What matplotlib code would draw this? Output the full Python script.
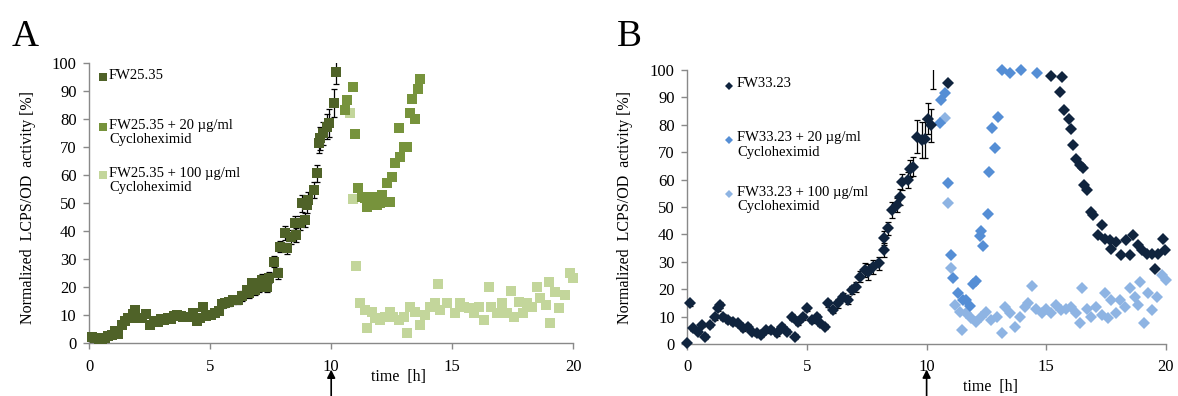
import matplotlib
matplotlib.use("Agg")
import matplotlib.pyplot as plt
import numpy as np

plt.rcParams['font.family'] = ['Liberation Serif', 'DejaVu Serif']

# ---------------- Panel A data ----------------
A_ctrl_x = [0.11, 0.25, 0.39, 0.52, 0.66, 0.8, 0.94, 1.08, 1.2, 1.35, 1.5, 1.6, 1.83, 1.9, 2.0,
            2.2, 2.35, 2.5, 2.7, 2.85, 2.98, 3.1, 3.25, 3.4, 3.5, 3.65, 3.78, 3.9, 4.04, 4.3,
            4.45, 4.59, 4.72, 4.85, 5.05, 5.2, 5.35, 5.5, 5.62, 5.8, 5.95, 6.17, 6.3, 6.52, 6.6,
            6.75, 6.86, 7.0, 7.13, 7.34, 7.45, 7.62, 7.82, 7.89, 8.1, 8.17, 8.35, 8.51, 8.55,
            8.72, 8.78, 8.9, 8.99, 9.06, 9.3, 9.41, 9.48, 9.55, 9.68, 9.82, 9.93, 10.1, 10.2]
A_ctrl_y = [2.1, 2.0, 1.4, 1.6, 1.8, 2.5, 3.0, 4.5, 3.5, 6.5, 8.0, 8.9, 10.6, 11.9, 9.0,
            9.1, 10.5, 6.5, 8.0, 7.5, 8.6, 8.2, 9.0, 8.8, 9.6, 10.0, 9.6, 9.3, 9.5, 10.7,
            8.0, 8.9, 13.1, 9.7, 10.2, 10.7, 11.5, 14.0, 14.3, 14.8, 15.5, 15.5, 17.0, 19.0, 18.0,
            21.5, 19.0, 20.0, 22.6, 20.2, 23.5, 29.1, 25.0, 34.5, 39.3, 33.9, 38.0, 42.9, 38.7,
            42.9, 50.0, 44.0, 49.4, 51.2, 54.8, 60.7, 71.4, 73.2, 75.0, 77.4, 78.6, 85.7, 96.8]
A_ctrl_err = [0.5, 0.5, 0.5, 0.5, 0.5, 0.5, 0.6, 0.6, 0.6, 0.8, 0.8, 1.0, 1.2, 1.0, 0.8,
              0.8, 0.8, 0.8, 0.8, 0.8, 0.8, 0.8, 0.8, 0.8, 0.8, 0.8, 0.8, 0.8, 0.8, 1.0,
              0.8, 1.0, 1.0, 1.0, 1.0, 1.0, 1.2, 1.5, 1.2, 1.5, 1.5, 1.5, 1.8, 1.5, 1.8,
              1.5, 1.8, 1.8, 2.0, 2.0, 1.8, 2.0, 2.0, 2.0, 2.5, 2.0, 2.5, 2.5, 2.5,
              2.5, 3.0, 2.5, 3.0, 3.0, 3.0, 3.0, 3.5, 4.0, 4.0, 4.5, 5.0, 5.0, 4.0]

A_20_x = [10.57, 10.64, 10.91, 10.98, 11.12, 11.26, 11.4, 11.46, 11.67, 11.88, 12.02, 12.09,
          12.29, 12.43, 12.5, 12.64, 12.78, 12.85, 12.99, 13.13, 13.26, 13.33, 13.47, 13.57, 13.68]
A_20_y = [83.3, 86.9, 91.4, 74.8, 55.4, 52.4, 51.8, 48.8, 52.4, 49.4, 50.0, 53.0,
          57.1, 50.6, 59.5, 64.3, 76.8, 66.7, 70.2, 70.2, 82.1, 87.1, 80.0, 90.7, 94.3]

A_100_x = [10.78, 10.92, 11.03, 11.2, 11.4, 11.47, 11.67, 11.82, 12.02, 12.23, 12.43, 12.57,
           12.78, 12.99, 13.13, 13.26, 13.47, 13.68, 13.88, 14.1, 14.3, 14.4, 14.5, 14.8, 15.1,
           15.3, 15.5, 15.7, 15.9, 16.1, 16.3, 16.5, 16.6, 16.85, 17.05, 17.26, 17.43, 17.54,
           17.74, 17.92, 18.1, 18.3, 18.5, 18.64, 18.87, 18.98, 19.05, 19.26, 19.4, 19.67,
           19.85, 20.0]
A_100_y = [82.1, 51.4, 27.6, 14.3, 11.9, 5.4, 11.3, 8.9, 8.3, 9.5, 11.3, 9.5,
           8.3, 9.5, 3.6, 13.1, 11.3, 6.5, 10.1, 13.1, 14.3, 21.1, 11.9, 14.3, 10.7,
           14.3, 13.1, 12.5, 10.7, 13.1, 8.3, 20.0, 13.1, 10.7, 14.3, 10.7, 18.7, 9.5,
           14.9, 10.7, 14.3, 13.1, 20.0, 16.1, 13.7, 21.9, 7.1, 18.3, 12.5, 17.3,
           25.0, 23.2]

# ---------------- Panel B data ----------------
B_ctrl_x = [0.0, 0.11, 0.25, 0.46, 0.6, 0.74, 0.95, 1.16, 1.3, 1.37, 1.5, 1.71, 1.92, 2.13, 2.34,
            2.55, 2.7, 2.9, 3.1, 3.3, 3.5, 3.73, 3.94, 4.15, 4.36, 4.5, 4.64, 4.85, 4.99, 5.2,
            5.4, 5.54, 5.75, 5.89, 6.1, 6.3, 6.52, 6.73, 6.87, 7.07, 7.22, 7.43, 7.57, 7.78,
            7.99, 8.2, 8.22, 8.4, 8.54, 8.75, 8.89, 8.96, 9.24, 9.3, 9.45, 9.6, 9.8, 9.93,
            10.06, 10.2, 10.9,
            15.21, 15.56, 15.67, 15.73, 15.94, 16.02, 16.12, 16.22, 16.4, 16.54, 16.58, 16.68,
            16.86, 16.96, 17.17, 17.31, 17.45, 17.65, 17.72, 17.93, 18.14, 18.35, 18.49, 18.63,
            18.84, 18.98, 19.19, 19.4, 19.54, 19.68, 19.89, 19.97]
B_ctrl_y = [0.2, 14.8, 5.7, 4.5, 6.9, 2.7, 6.9, 9.9, 13.0, 14.2, 9.9, 8.7, 8.1, 7.5, 5.7,
            6.3, 4.5, 3.9, 3.3, 5.1, 5.1, 3.9, 6.3, 4.5, 9.9, 2.7, 8.1, 9.9, 13.0, 8.7,
            9.9, 7.5, 6.3, 14.8, 12.4, 14.8, 17.2, 16.0, 19.6, 20.9, 24.5, 26.9, 26.3, 28.2,
            29.4, 34.3, 38.6, 42.2, 48.9, 50.7, 53.7, 59.2, 59.8, 64.0, 64.7, 75.6, 74.4, 75.0,
            82.3, 79.8, 95.4,
            97.8, 92.1, 97.3, 85.4, 82.0, 78.3, 72.8, 67.7, 65.3, 64.1, 58.0, 56.2,
            48.3, 47.0, 39.7, 43.4, 38.2, 37.9, 34.8, 37.3, 32.4, 37.9, 32.4, 39.7,
            36.1, 34.2, 33.0, 33.0, 27.5, 33.0, 38.5, 34.2]
# error bars exist for the first part of the time course only
B_ctrl_err = [0.5, 0.8, 0.8, 0.8, 0.8, 0.8, 0.8, 1.0, 1.0, 1.0, 1.2, 1.0, 1.0, 1.0, 1.0,
              1.0, 0.8, 0.8, 0.8, 1.0, 1.0, 1.0, 1.0, 1.0, 1.0, 0.8, 1.0, 1.0, 1.0, 1.0,
              1.0, 1.0, 1.0, 1.2, 1.2, 1.5, 1.5, 1.5, 1.5, 1.8, 2.0, 2.5, 3.0, 2.5,
              2.5, 2.5, 2.5, 2.5, 3.0, 2.5, 3.0, 3.0, 3.0, 3.0, 3.5, 6.0, 6.5, 7.0,
              5.5, 6.0]
B_off_x = [10.26]
B_off_y = [106.0]
B_off_err = [13.0]

B_20_x = [10.55, 10.62, 10.76, 10.9, 11.0, 11.1, 11.31, 11.5, 11.66, 11.8, 11.94, 12.05, 12.21,
          12.29, 12.35, 12.57, 12.61, 12.75, 12.85, 12.99, 13.13, 13.48, 13.95, 14.62]
B_20_y = [80.6, 89.1, 91.5, 58.6, 32.5, 24.0, 18.7, 16.0, 16.0, 14.0, 21.9, 23.1, 39.5,
          41.3, 35.8, 47.3, 62.9, 78.7, 71.5, 83.0, 100.0, 98.8, 100.0, 98.8]

B_100_x = [10.76, 10.9, 11.0, 11.17, 11.38, 11.46, 11.66, 11.87, 12.08, 12.29, 12.5, 12.71,
           12.92, 13.13, 13.27, 13.48, 13.69, 13.89, 14.1, 14.24, 14.42, 14.59, 14.8, 15.0,
           15.21, 15.42, 15.63, 15.84, 16.05, 16.26, 16.4, 16.51, 16.68, 16.88, 17.09, 17.31,
           17.45, 17.59, 17.72, 17.93, 18.07, 18.28, 18.49, 18.7, 18.84, 18.91, 19.07, 19.26,
           19.42, 19.61, 19.82, 19.99]
B_100_y = [82.4, 51.6, 27.6, 14.2, 11.8, 5.1, 11.2, 9.4, 8.1, 9.9, 11.8, 8.8,
           9.9, 3.9, 13.6, 11.2, 6.3, 9.9, 13.6, 14.8, 21.3, 12.9, 11.2, 12.9,
           11.2, 14.2, 12.4, 12.9, 13.6, 11.2, 7.5, 20.3, 12.9, 9.9, 13.6, 10.5,
           18.5, 9.4, 16.0, 11.2, 16.0, 13.6, 20.3, 17.2, 14.2, 22.8, 7.5, 18.5,
           12.4, 17.2, 25.2, 23.4]

A_labels = ["FW25.35", "FW25.35 + 20 \u00b5g/ml\nCycloheximid", "FW25.35 + 100 \u00b5g/ml\nCycloheximid"]
B_labels = ["FW33.23", "FW33.23 + 20 \u00b5g/ml\nCycloheximid", "FW33.23 + 100 \u00b5g/ml\nCycloheximid"]
A_colors = ["#4F6228", "#77933C", "#C3D69B"]
B_colors = ["#10243E", "#558ED5", "#8EB4E3"]

xticks = [0, 5, 10, 15, 20]
yticks = list(range(0, 101, 10))

fig = plt.figure(figsize=(11.78, 3.96), dpi=100)
axA = fig.add_axes([0.0756, 0.133, 0.4111, 0.707])
axB = fig.add_axes([0.5834, 0.1313, 0.4064, 0.6919])

spine_col = "#898989"
FS = 12


def style(ax):
    ax.set_xlim(0, 20)
    ax.set_ylim(0, 100)
    ax.set_xticks(xticks)
    ax.set_yticks(yticks)
    for s in ["top", "right"]:
        ax.spines[s].set_visible(False)
    for s in ["left", "bottom"]:
        ax.spines[s].set_color(spine_col)
        ax.spines[s].set_linewidth(1.0)
    ax.tick_params(axis='both', direction='out', color=spine_col, length=4, width=1.0,
                   labelsize=FS, labelcolor='black')
    ax.tick_params(axis='x', pad=7)
    ax.tick_params(axis='y', pad=5)


# Panel A
style(axA)
axA.errorbar(A_ctrl_x, A_ctrl_y, yerr=A_ctrl_err, fmt='none', ecolor='black',
             elinewidth=0.9, capsize=2.5, capthick=0.9, zorder=2)
axA.plot(A_100_x, A_100_y, 's', color=A_colors[2], ms=7.5, mew=0, clip_on=False, zorder=3)
axA.plot(A_20_x, A_20_y, 's', color=A_colors[1], ms=7.5, mew=0, clip_on=False, zorder=3)
axA.plot(A_ctrl_x, A_ctrl_y, 's', color=A_colors[0], ms=7.5, mew=0, clip_on=False, zorder=3)

# Panel B
style(axB)
nerr = len(B_ctrl_err)
axB.errorbar(B_ctrl_x[:nerr], B_ctrl_y[:nerr], yerr=B_ctrl_err, fmt='none', ecolor='black',
             elinewidth=0.9, capsize=2.5, capthick=0.9, zorder=2)
axB.errorbar(B_off_x, B_off_y, yerr=B_off_err, fmt='none', ecolor='black',
             elinewidth=0.9, capsize=2.5, capthick=0.9, zorder=2)
axB.plot(B_100_x, B_100_y, 'D', color=B_colors[2], ms=6.5, mew=0, clip_on=False, zorder=3)
axB.plot(B_20_x, B_20_y, 'D', color=B_colors[1], ms=6.5, mew=0, clip_on=False, zorder=3)
axB.plot(B_ctrl_x, B_ctrl_y, 'D', color=B_colors[0], ms=6.5, mew=0, clip_on=False, zorder=4)

# Legends (manual, top-left inside)
A_leg_y = [0.951, 0.773, 0.601]
for lab, col, yy in zip(A_labels, A_colors, A_leg_y):
    axA.plot([0.028], [yy], 's', color=col, ms=5.5, mew=0, transform=axA.transAxes, clip_on=False)
    axA.text(0.041, yy + 0.03, lab, transform=axA.transAxes, fontsize=10.5, va='top', ha='left',
             linespacing=1.15)
B_leg_y = [0.942, 0.745, 0.547]
for lab, col, yy in zip(B_labels, B_colors, B_leg_y):
    axB.plot([0.087], [yy], 'D', color=col, ms=4.5, mew=0, transform=axB.transAxes, clip_on=False)
    axB.text(0.104, yy + 0.031, lab, transform=axB.transAxes, fontsize=10.5, va='top', ha='left',
             linespacing=1.15)

# Axis labels
ylab = "Normalized  LCPS/OD  activity [%]"
fig.text(28 / 1178, 1 - 207 / 396, ylab, rotation=90, ha='center', va='center', fontsize=11.5)
fig.text(625 / 1178, 1 - 207 / 396, ylab, rotation=90, ha='center', va='center', fontsize=11.5)
axA.text(0.64, -0.12, "time  [h]", transform=axA.transAxes, ha='center', va='center', fontsize=11.5)
axB.text(0.634, -0.156, "time  [h]", transform=axB.transAxes, ha='center', va='center', fontsize=11.5)

# Panel letters
fig.text(12 / 1178, 1 - 46 / 396, "A", fontsize=27, ha='left', va='baseline')
fig.text(617 / 1178, 1 - 46 / 396, "B", fontsize=27, ha='left', va='baseline')

# Arrows marking time of addition
for ax, ytip, ytail in [(axA, -0.084, -0.2), (axB, -0.083, -0.2)]:
    ax.annotate('', xy=(10, ytip), xycoords=('data', 'axes fraction'),
                xytext=(10, ytail), textcoords=('data', 'axes fraction'),
                arrowprops=dict(arrowstyle='-|>', color='black', lw=1.2, mutation_scale=12),
                annotation_clip=False)

fig.savefig("out.png", dpi=100)
